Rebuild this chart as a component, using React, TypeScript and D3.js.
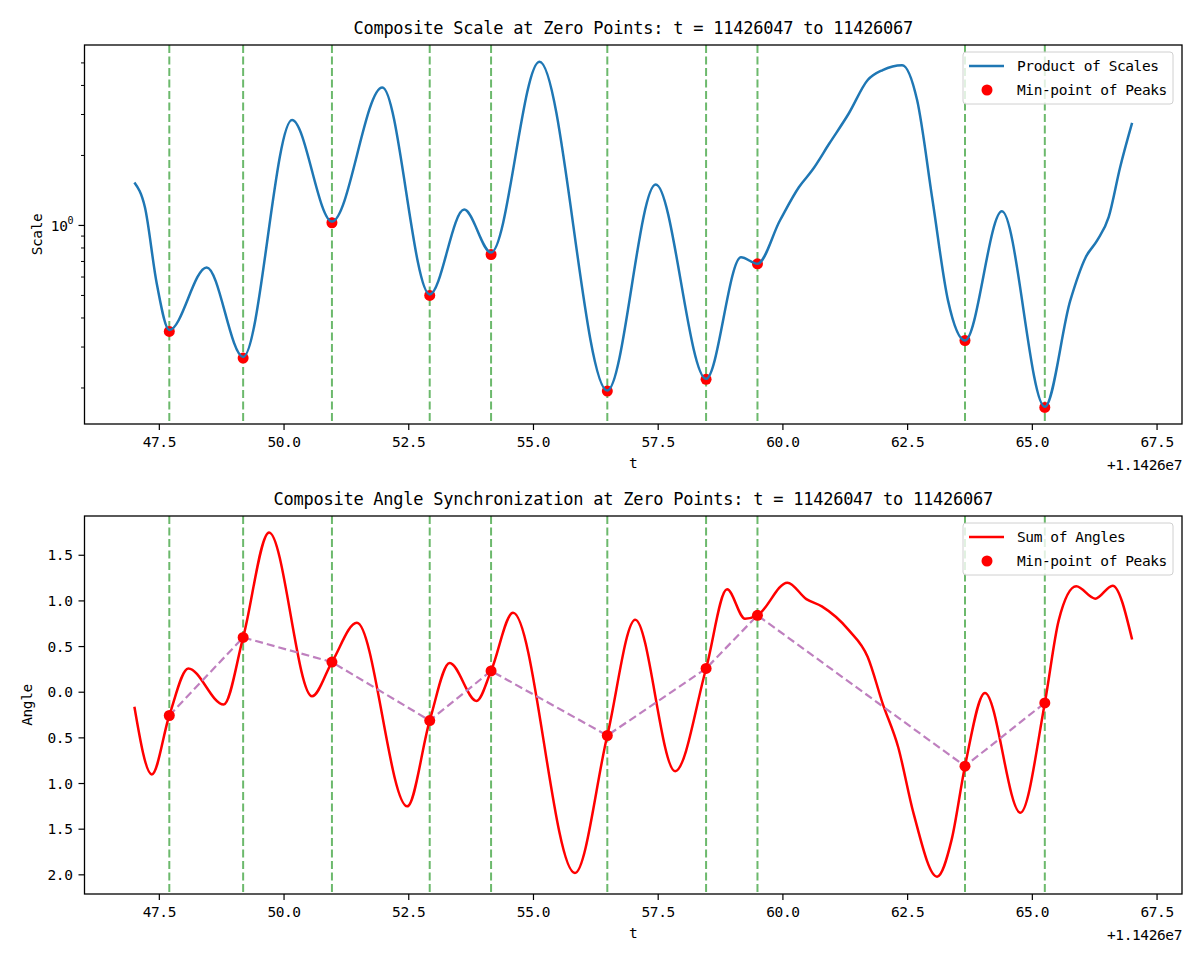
import React from 'react';
import * as d3 from 'd3';

// t offsets from 1.1426e7
const zeroT = [47.7, 49.18, 50.96, 52.92, 54.15, 56.48, 58.46, 59.49, 63.65, 65.25];

const scaleT = [47.0, 47.21, 47.45, 47.7, 48.45, 49.18, 50.16, 50.96, 51.97, 52.92, 53.61, 54.15, 55.12, 56.48, 57.45, 58.46, 59.16, 59.49, 59.94, 60.32, 60.59, 60.93, 61.32, 61.7, 62.0, 62.39, 62.69, 63.0, 63.31, 63.65, 64.39, 65.25, 65.76, 66.07, 66.3, 66.53, 66.76, 67.0];
const scaleV = [1.53, 1.2, 0.56, 0.355, 0.66, 0.272, 2.84, 1.04, 3.92, 0.505, 1.17, 0.765, 5.06, 0.195, 1.5, 0.219, 0.73, 0.684, 1.05, 1.46, 1.73, 2.25, 3.03, 4.22, 4.66, 4.89, 3.46, 1.28, 0.475, 0.32, 1.15, 0.166, 0.475, 0.73, 0.862, 1.086, 1.78, 2.76];
const scaleMin = [0.35, 0.269, 1.027, 0.5, 0.75, 0.194, 0.218, 0.684, 0.32, 0.165];

const angleT = [47.0, 47.35, 47.7, 48.08, 48.79, 49.18, 49.7, 50.56, 50.96, 51.46, 52.47, 52.92, 53.32, 53.86, 54.15, 54.59, 55.83, 56.48, 57.04, 57.84, 58.46, 58.88, 59.24, 59.49, 60.09, 60.47, 60.78, 61.32, 61.7, 62.0, 62.31, 62.62, 63.09, 63.38, 63.65, 64.05, 64.76, 65.25, 65.53, 65.88, 66.26, 66.61, 67.0];
const angleV = [-0.16, -0.9, -0.255, 0.26, -0.135, 0.6, 1.75, -0.044, 0.33, 0.76, -1.25, -0.31, 0.32, -0.095, 0.233, 0.87, -1.98, -0.474, 0.795, -0.865, 0.26, 1.127, 0.806, 0.842, 1.2, 1.02, 0.94, 0.68, 0.386, -0.124, -0.6, -1.33, -2.02, -1.62, -0.81, -0.008, -1.32, -0.117, 0.79, 1.16, 1.025, 1.167, 0.577];
const angleMin = [-0.255, 0.6, 0.33, -0.31, 0.233, -0.474, 0.26, 0.842, -0.81, -0.117];

const xTicks = [47.5, 50, 52.5, 55, 57.5, 60, 62.5, 65, 67.5];
const angleTicks = [1.5, 1.0, 0.5, 0.0, -0.5, -1.0, -1.5, -2.0];
const scaleMinorTicks = [0.2, 0.3, 0.4, 0.5, 0.6, 0.7, 0.8, 0.9, 2, 3, 4, 5];

const FONT = '"DejaVu Sans Mono", "Liberation Mono", monospace';
const FS = 14.5; // tick / label size
const LS = -0.4;
const GREEN = '#6cb96c';
const BLUE = '#1f77b4';
const RED = '#ff0000';
const PURPLE = '#bf80bf';

const LEFT = 84.5;
const RIGHT = 1182;

const x = d3.scaleLinear().domain([46, 68]).range([LEFT, RIGHT]);

interface PanelProps {
  top: number;
  bottom: number;
  title: string;
  children: React.ReactNode;
  yAxis: React.ReactNode;
  ylabel: string;
  ylabelX: number;
}

const Panel: React.FC<PanelProps> = ({ top, bottom, title, children, yAxis, ylabel, ylabelX }) => {
  const mid = (top + bottom) / 2;
  return (
    <g>
      <text x={(LEFT + RIGHT) / 2} y={top - 11} textAnchor="middle" fontSize={17} letterSpacing={-0.24}>{title}</text>
      <clipPath id={`clip${Math.round(top)}`}>
        <rect x={LEFT} y={top} width={RIGHT - LEFT} height={bottom - top} />
      </clipPath>
      <g clipPath={`url(#clip${Math.round(top)})`}>
        {zeroT.map((t, i) => (
          <line key={i} x1={x(t)} x2={x(t)} y1={top} y2={bottom} stroke={GREEN} strokeWidth={2} strokeDasharray="8,3.5" />
        ))}
        {children}
      </g>
      <rect x={LEFT} y={top} width={RIGHT - LEFT} height={bottom - top} fill="none" stroke="#000" strokeWidth={1.3} />
      {xTicks.map((t) => (
        <g key={t}>
          <line x1={x(t)} x2={x(t)} y1={bottom} y2={bottom + 6} stroke="#000" strokeWidth={1.2} />
          <text x={x(t)} y={bottom + 23} textAnchor="middle" fontSize={FS} letterSpacing={LS}>{t.toFixed(1)}</text>
        </g>
      ))}
      <text x={(LEFT + RIGHT) / 2} y={bottom + 44} textAnchor="middle" fontSize={FS}>t</text>
      <text x={RIGHT} y={bottom + 46} textAnchor="end" fontSize={FS} letterSpacing={LS}>+1.1426e7</text>
      {yAxis}
      <text transform={`translate(${ylabelX},${mid}) rotate(-90)`} textAnchor="middle" fontSize={FS} letterSpacing={LS}>{ylabel}</text>
    </g>
  );
};

interface LegendProps {
  top: number;
  label: string;
  color: string;
}

const Legend: React.FC<LegendProps> = ({ top, label, color }) => {
  const left = 963;
  return (
    <g>
      <rect x={left} y={top} width={210} height={52} rx={3} fill="#fff" fillOpacity={0.8} stroke="#d0d0d0" />
      <line x1={left + 6} x2={left + 41} y1={top + 14} y2={top + 14} stroke={color} strokeWidth={2.5} />
      <text x={left + 54} y={top + 19} fontSize={FS} letterSpacing={LS}>{label}</text>
      <circle cx={left + 24} cy={top + 38} r={5.5} fill={RED} />
      <text x={left + 54} y={top + 43} fontSize={FS} letterSpacing={LS}>Min-point of Peaks</text>
    </g>
  );
};

export default function App() {
  // top panel
  const T1 = 45, B1 = 424;
  const yS = d3.scaleLog().domain([0.14, 5.97]).range([B1, T1]);
  const scaleLine = d3.line<number>()
    .x((_, i) => x(scaleT[i]))
    .y((v) => yS(v))
    .curve(d3.curveMonotoneX);

  // bottom panel
  const T2 = 516, B2 = 894;
  const yA = d3.scaleLinear().domain([-2.21, 1.93]).range([B2, T2]);
  const angleLine = d3.line<number>()
    .x((_, i) => x(angleT[i]))
    .y((v) => yA(v))
    .curve(d3.curveMonotoneX);
  const minLine = d3.line<number>()
    .x((_, i) => x(zeroT[i]))
    .y((v) => yA(v));

  const scaleAxis = (
    <g>
      <line x1={LEFT - 6} x2={LEFT} y1={yS(1)} y2={yS(1)} stroke="#000" strokeWidth={1.2} />
      <text x={LEFT - 17} y={yS(1) + 6} textAnchor="end" fontSize={FS} letterSpacing={LS}>10</text>
      <text x={LEFT - 11} y={yS(1) - 1} textAnchor="end" fontSize={10}>0</text>
      {scaleMinorTicks.map((v) => (
        <line key={v} x1={LEFT - 3.5} x2={LEFT} y1={yS(v)} y2={yS(v)} stroke="#000" strokeWidth={1} />
      ))}
    </g>
  );

  const angleAxis = (
    <g>
      {angleTicks.map((v) => (
        <g key={v}>
          <line x1={LEFT - 6} x2={LEFT} y1={yA(v)} y2={yA(v)} stroke="#000" strokeWidth={1.2} />
          {/* the original font has no minus glyph, so negatives show bare */}
          <text x={LEFT - 12} y={yA(v) + 5} textAnchor="end" fontSize={FS} letterSpacing={LS}>{Math.abs(v).toFixed(1)}</text>
        </g>
      ))}
    </g>
  );

  return (
    <svg width={1200} height={960} style={{ position: 'absolute', left: 0, top: 0, background: '#fff' }} fontFamily={FONT}>
      <rect width={1200} height={960} fill="#fff" />
      <Panel top={T1} bottom={B1} title="Composite Scale at Zero Points: t = 11426047 to 11426067" yAxis={scaleAxis} ylabel="Scale" ylabelX={42}>
        {scaleMin.map((v, i) => (
          <circle key={i} cx={x(zeroT[i])} cy={yS(v)} r={5.5} fill={RED} />
        ))}
        <path d={scaleLine(scaleV) ?? ''} fill="none" stroke={BLUE} strokeWidth={2.5} />
      </Panel>
      <Legend top={52} label="Product of Scales" color={BLUE} />
      <Panel top={T2} bottom={B2} title="Composite Angle Synchronization at Zero Points: t = 11426047 to 11426067" yAxis={angleAxis} ylabel="Angle" ylabelX={32}>
        <path d={angleLine(angleV) ?? ''} fill="none" stroke={RED} strokeWidth={2.5} />
        <path d={minLine(angleMin) ?? ''} fill="none" stroke={PURPLE} strokeWidth={2.2} strokeDasharray="8,4" />
        {angleMin.map((v, i) => (
          <circle key={i} cx={x(zeroT[i])} cy={yA(v)} r={5.5} fill={RED} />
        ))}
      </Panel>
      <Legend top={523} label="Sum of Angles" color={RED} />
    </svg>
  );
}
